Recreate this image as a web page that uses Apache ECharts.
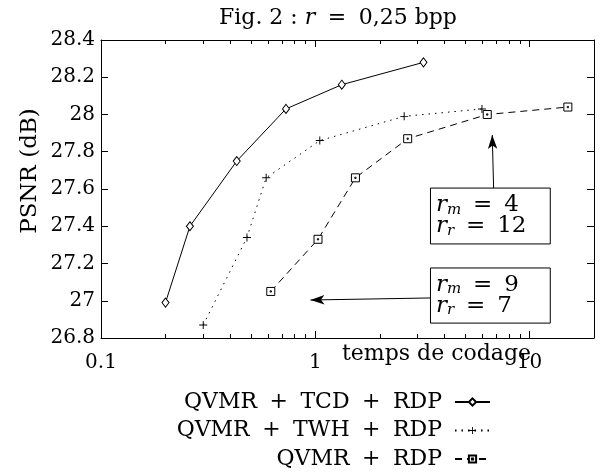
<!DOCTYPE html>
<html><head><meta charset="utf-8">
<script src="https://cdn.jsdelivr.net/npm/echarts@6/dist/echarts.min.js"></script>
<style>html,body{margin:0;padding:0;background:#fff}#c{width:601px;height:472px}</style>
</head><body><div id="c"></div>
<script>
const xTCD = [0.2, 0.26, 0.43, 0.73, 1.33, 3.2];
const yTCD = [26.99, 27.40, 27.75, 28.03, 28.16, 28.28];
const xTWH = [0.30, 0.48, 0.59, 1.05, 2.6, 6.0];
const yTWH = [26.87, 27.34, 27.66, 27.86, 27.99, 28.03];
const xRDP = [0.62, 1.03, 1.54, 2.7, 6.35, 15.1];
const yRDP = [27.05, 27.33, 27.66, 27.87, 28.00, 28.04];
const seriesNames = ['QVMR + TCD + RDP', 'QVMR + TWH + RDP', 'QVMR + RDP'];
const minorTicks = [0.2,0.3,0.4,0.5,0.6,0.7,0.8,0.9,2,3,4,5,6,7,8,9];
const X_MIN = 0.1, X_MAX = 20, Y_MIN = 26.8, Y_MAX = 28.4, Y_STEP = 0.2;

const FONT = 'DejaVu Serif';
const SP = '\u2005';
const mathSpace = s => s.replace(/ ([+=]) /g, ' ' + SP + '$1' + SP + ' ');
const EQ = ' \u2009=\u2009 ';
const zip = (a, b) => a.map((v, i) => [v, b[i]]);
const chart = echarts.init(document.getElementById('c'), null, {renderer: 'canvas'});

const axisCommon = {
  axisLine: {show: true, lineStyle: {color: '#000', width: 1}},
  axisTick: {show: true, inside: true, length: 7, lineStyle: {color: '#000'}},
  splitLine: {show: false}
};
const ptSymbol = 'path://M0,0H10V10H0Z M4.2,4.2H5.8V5.8H4.2Z';
const plusSymbol = 'path://M-0.6,-5H0.6V-0.6H5V0.6H0.6V5H-0.6V0.6H-5V-0.6H-0.6Z';

chart.setOption({
  animation: false,
  textStyle: {fontFamily: FONT, color: '#000'},
  title: {
    text: 'Fig. 2 : {i|r}' + mathSpace(' = ') + '0,25 bpp',
    left: 214, top: 2,
    textStyle: {fontFamily: FONT, fontSize: 22, fontWeight: 'normal', color: '#000',
      rich: {i: {fontFamily: FONT, fontSize: 22, fontStyle: 'italic', color: '#000'}}}
  },
  grid: {left: 101, right: 7, top: 40, bottom: 134, containLabel: false},
  xAxis: [
    Object.assign({type: 'log', logBase: 10, min: X_MIN, max: X_MAX, position: 'bottom',
      axisLabel: {fontFamily: FONT, fontSize: 20, color: '#000', margin: 15, showMaxLabel: false}}, axisCommon),
    Object.assign({type: 'log', logBase: 10, min: X_MIN, max: X_MAX, position: 'top',
      axisLabel: {show: false}}, axisCommon)
  ],
  yAxis: [
    Object.assign({type: 'value', min: Y_MIN, max: Y_MAX, interval: Y_STEP, position: 'left',
      axisLabel: {fontFamily: FONT, fontSize: 20, color: '#000', margin: 6}}, axisCommon),
    Object.assign({type: 'value', min: Y_MIN, max: Y_MAX, interval: Y_STEP, position: 'right',
      axisLabel: {show: false}}, axisCommon)
  ],
  legend: seriesNames.map((n, i) => ({
    data: [n], orient: 'vertical', align: 'right', right: 110, top: 391 + i * 28.5,
    itemWidth: 35, itemHeight: 9, itemGap: 12, padding: 0,
    formatter: name => mathSpace(name),
    textStyle: {fontFamily: FONT, fontSize: 22, color: '#000', padding: [0, 8, 0, 0]}
  })),
  graphic: [{
    type: 'text', left: 342, top: 343,
    style: {text: 'temps de codage', fontFamily: FONT, fontSize: 22, fill: '#000'}
  }, {
    type: 'text', x: 30, y: 171, rotation: Math.PI / 2,
    style: {text: 'PSNR (dB)', fontFamily: FONT, fontSize: 23, fill: '#000', align: 'center', verticalAlign: 'middle'}
  }],
  series: [
    {name: seriesNames[0], type: 'line', data: zip(xTCD, yTCD),
      symbol: 'diamond', symbolSize: [7, 9], showSymbol: true,
      lineStyle: {color: '#000', width: 1, type: 'solid'},
      itemStyle: {color: '#fff', borderColor: '#000', borderWidth: 1}},
    {name: seriesNames[1], type: 'line', data: zip(xTWH, yTWH),
      symbol: plusSymbol, symbolSize: 8,
      lineStyle: {color: '#000', width: 1, type: [1.5, 5]},
      itemStyle: {color: '#000', borderWidth: 0}},
    {name: seriesNames[2], type: 'line', data: zip(xRDP, yRDP),
      symbol: ptSymbol, symbolSize: 8,
      lineStyle: {color: '#000', width: 1, type: [7, 5]},
      itemStyle: {color: '#fff', borderColor: '#000', borderWidth: 1}},
    {name: 'ticks', type: 'custom', silent: true, z: 1,
      data: minorTicks.map(v => [v, Y_MIN]),
      renderItem: function (params, api) {
        const x = api.value(0);
        const pb = api.coord([x, Y_MIN]);
        const pt = api.coord([x, Y_MAX]);
        const px = Math.round(pb[0]) + 0.5;
        return {type: 'group', children: [
          {type: 'line', shape: {x1: px, y1: pb[1], x2: px, y2: pb[1] - 4}, style: {stroke: '#000', lineWidth: 1}},
          {type: 'line', shape: {x1: px, y1: pt[1], x2: px, y2: pt[1] + 4}, style: {stroke: '#000', lineWidth: 1}}
        ]};
      }},
    {name: 'annot', type: 'line', data: [], silent: true,
      markLine: {silent: true, symbol: ['none', 'arrow'], symbolSize: [7, 14],
        lineStyle: {color: '#000', width: 1, type: 'solid'}, label: {show: false},
        data: [
          [{coord: [6.8, 27.605]}, {coord: [6.7, 27.89]}],
          [{coord: [3.45, 27.015]}, {coord: [0.95, 27.004]}]
        ]},
      markArea: {silent: true,
        itemStyle: {color: '#fff', borderColor: '#000', borderWidth: 1},
        label: {show: true, position: 'insideLeft', distance: 6, color: '#000',
          fontFamily: FONT, fontSize: 23, lineHeight: 21,
          rich: {
            i: {fontFamily: FONT, fontSize: 23, fontStyle: 'italic', color: '#000', lineHeight: 21},
            s: {fontFamily: FONT, fontSize: 15, fontStyle: 'italic', color: '#000', lineHeight: 21, padding: [9, 0, 0, 0]},
            n: {fontFamily: FONT, fontSize: 23, color: '#000', lineHeight: 21}
          }},
        data: [
          [{coord: [3.45, 27.605], label: {formatter: '{i|r}{s|m}{n|' + EQ + '4}\n{i|r}{s|r}{n|' + EQ + '12}'}}, {coord: [12.5, 27.305]}],
          [{coord: [3.45, 27.176], label: {formatter: '{i|r}{s|m}{n|' + EQ + '9}\n{i|r}{s|r}{n|' + EQ + '7}'}}, {coord: [12.5, 26.88]}]
        ]}}
  ]
});
</script></body></html>
